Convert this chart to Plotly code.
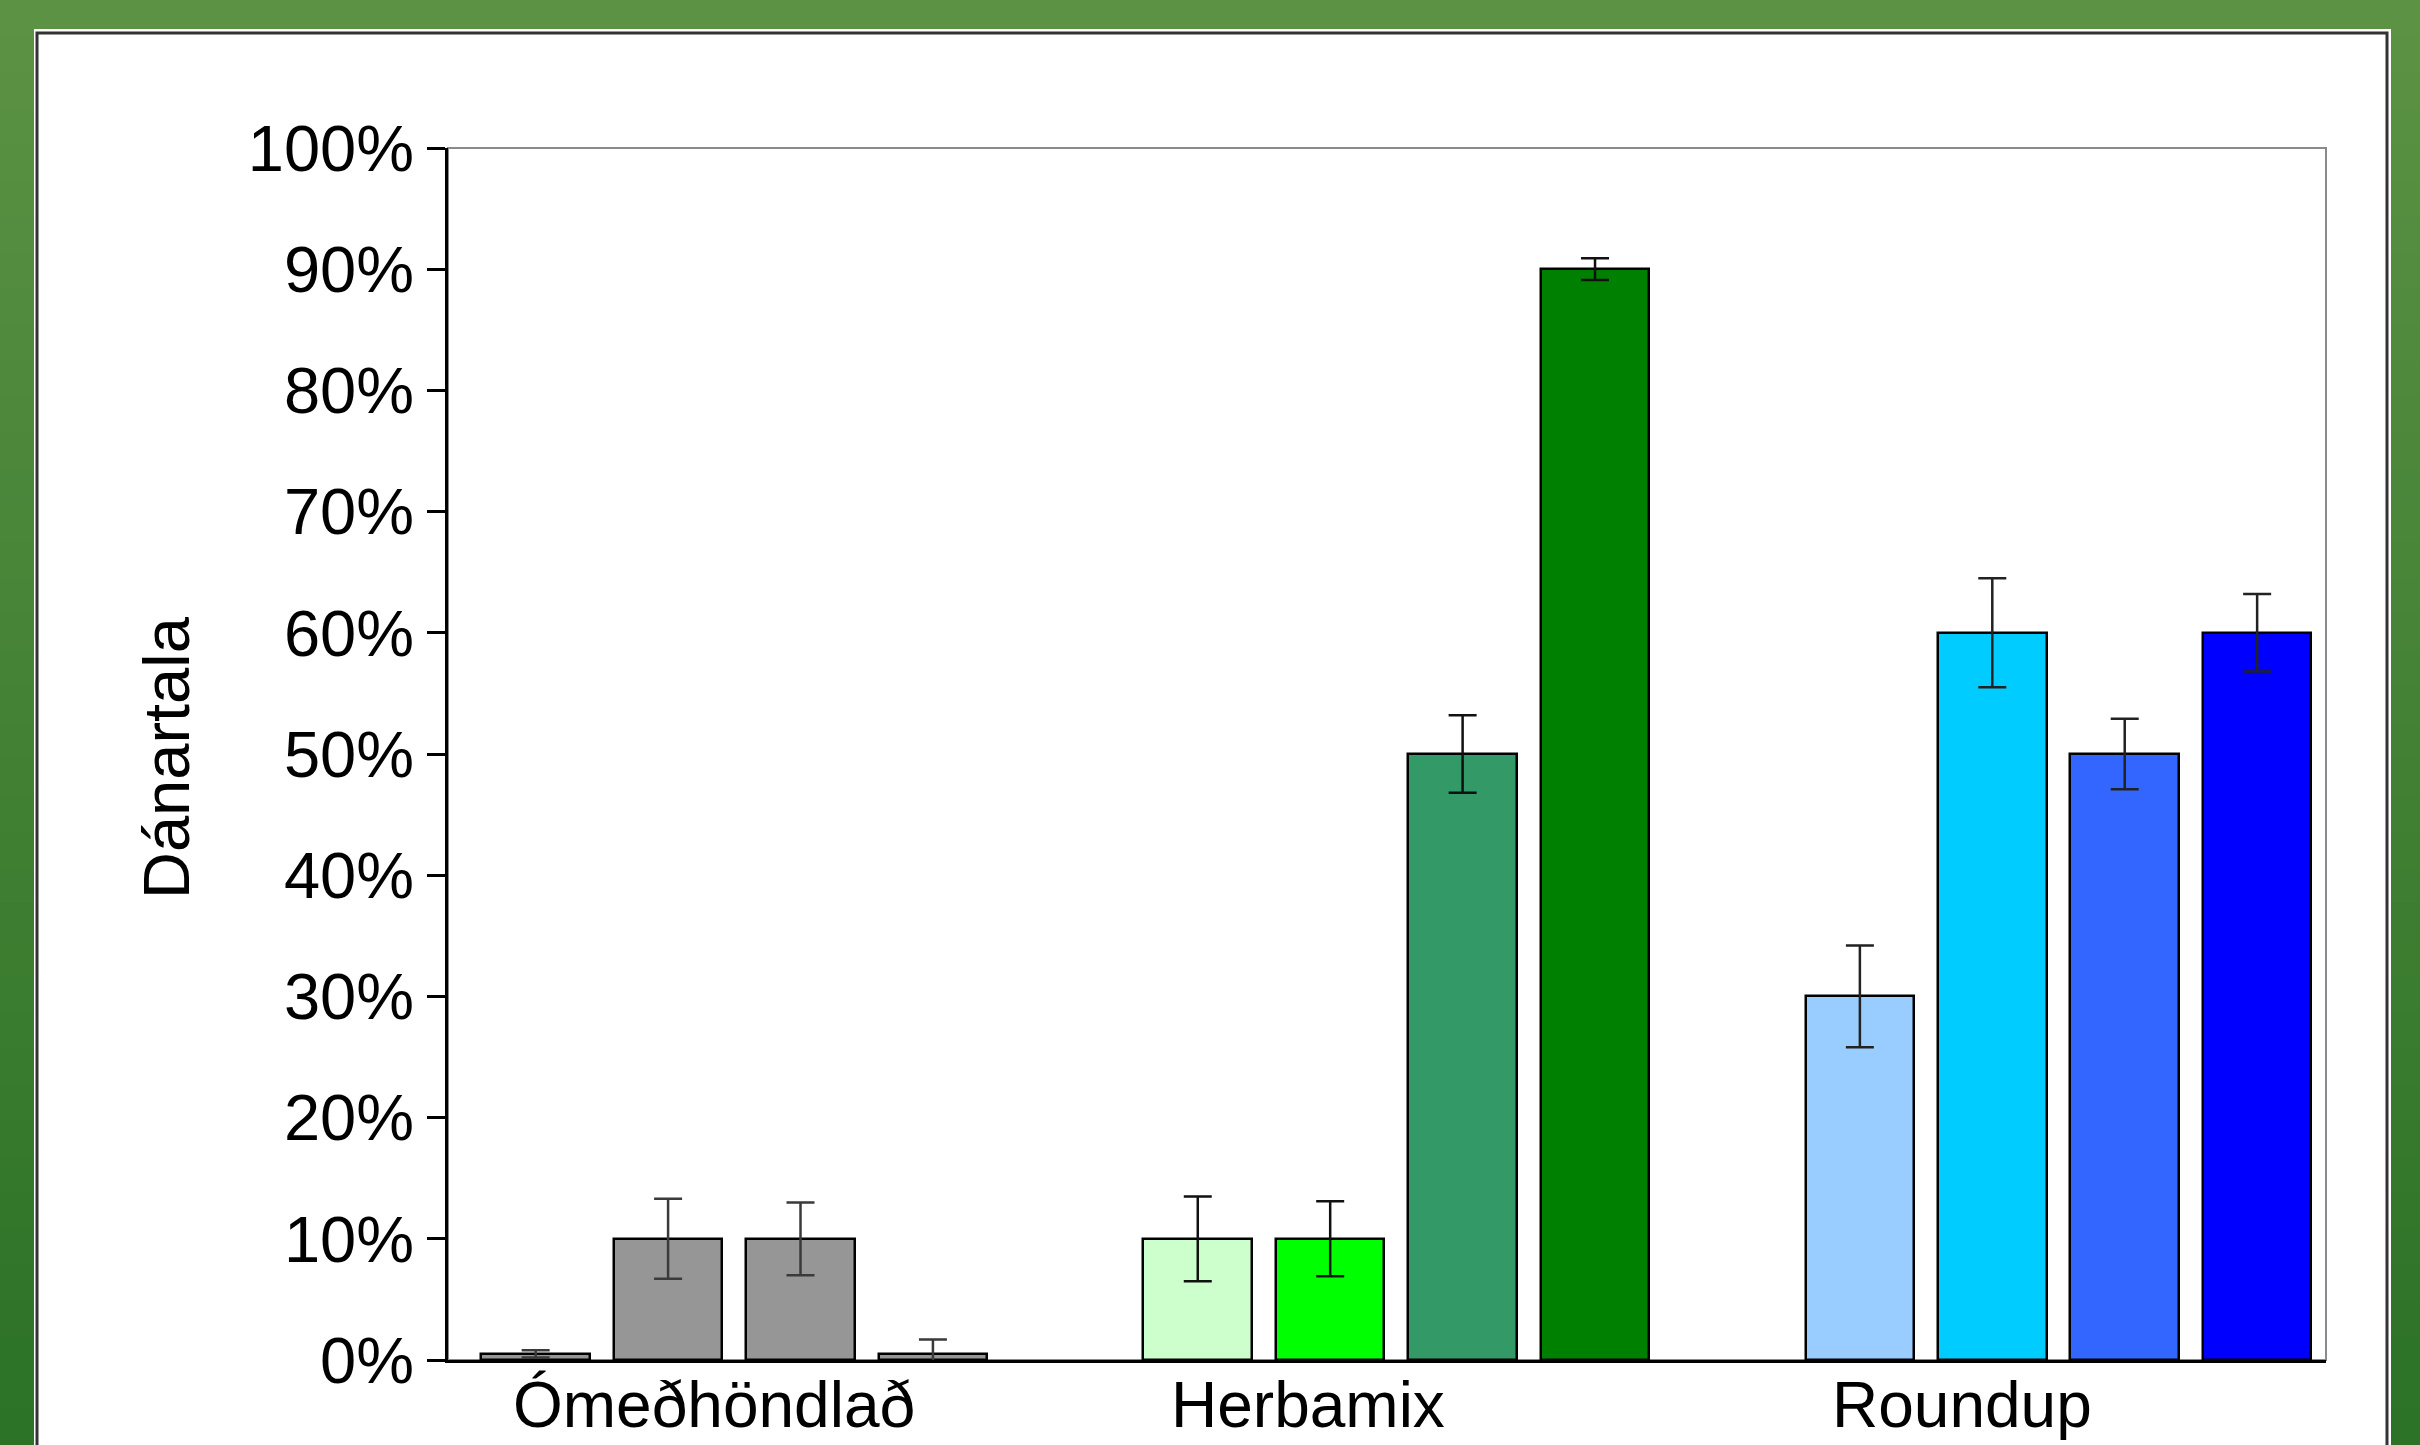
import plotly.graph_objects as go

# ---- data ----
groups = ["Ómeðhöndlað", "Herbamix", "Roundup"]
untreated_vals = [0.5, 10, 10, 0.5]
untreated_err = [0.3, 3.3, 3.0, 1.2]
herbamix_vals = [10, 10, 50, 90]
herbamix_err = [3.5, 3.1, 3.2, 0.9]
roundup_vals = [30, 60, 50, 60]
roundup_err = [4.2, 4.5, 2.9, 3.2]
y_title = "Dánartala"
y_ticks = [0, 10, 20, 30, 40, 50, 60, 70, 80, 90, 100]
y_ticktext = [f"{v}%" for v in y_ticks]

# ---- styles ----
colors = [
    ["#969696"] * 4,
    ["#ccffcc", "#00ff00", "#339966", "#008000"],
    ["#99ccff", "#00ccff", "#3366ff", "#0000ff"],
]
err_colors = ["#3a3a3a", "#111111", "#222222"]
FONT = "Liberation Sans, Arial, sans-serif"

W, H = 2420, 1445
L, R, T, B = 448, 2326, 148, 1360  # plot area in pixels

def px(x):
    return (x - L) / (R - L)

def py(y):
    return (B - y) / (B - T)

fig = go.Figure()
series = [(untreated_vals, untreated_err), (herbamix_vals, herbamix_err), (roundup_vals, roundup_err)]
for g, (vals, errs) in enumerate(series):
    xs = [g * 5 + i for i in range(len(vals))]
    fig.add_trace(go.Bar(
        x=xs, y=vals, width=0.82,
        marker=dict(color=colors[g], line=dict(color="#000000", width=2.5)),
        error_y=dict(type="data", array=errs, visible=True, color=err_colors[g],
                     thickness=2.5, width=14),
        showlegend=False, name=groups[g],
    ))

shapes = []
# green gradient background
top_c = (0x5b, 0x92, 0x43)
bot_c = (0x2c, 0x72, 0x27)
N = 40
for i in range(N):
    t = i / (N - 1)
    c = tuple(int(round(top_c[k] + (bot_c[k] - top_c[k]) * t)) for k in range(3))
    y0 = i * H / N
    y1 = (i + 1) * H / N + 1
    shapes.append(dict(type="rect", xref="paper", yref="paper", layer="below",
                       x0=px(0), x1=px(W), y0=py(y1), y1=py(y0),
                       fillcolor="rgb(%d,%d,%d)" % c, line=dict(width=0)))
# white panel
shapes.append(dict(type="rect", xref="paper", yref="paper", layer="below",
                   x0=px(34), x1=px(2391), y0=py(1460), y1=py(29),
                   fillcolor="white", line=dict(width=0)))
shapes.append(dict(type="rect", xref="paper", yref="paper", layer="below",
                   x0=px(37), x1=px(2387), y0=py(1460), y1=py(33),
                   fillcolor="rgba(0,0,0,0)", line=dict(color="#333333", width=3)))
# plot frame (grey top/right)
shapes.append(dict(type="rect", xref="paper", yref="paper", layer="below",
                   x0=0, x1=1, y0=0, y1=1,
                   fillcolor="rgba(0,0,0,0)", line=dict(color="#8a8a8a", width=2)))

annotations = [
    dict(text=y_title, xref="paper", yref="paper", x=px(167), y=py(758),
         textangle=-90, showarrow=False, xanchor="center", yanchor="middle",
         font=dict(family=FONT, size=65, color="#000000")),
]
label_x = [1.35, 5.83, 10.77]
for name, lx in zip(groups, label_x):
    annotations.append(dict(text=name, xref="x", yref="paper", x=lx, y=py(1405),
                            showarrow=False, xanchor="center", yanchor="middle",
                            font=dict(family=FONT, size=64, color="#000000")))

fig.update_layout(
    width=W, height=H,
    margin=dict(l=L, r=W - R, t=T, b=H - B, pad=0),
    paper_bgcolor="#4a8a3a",
    plot_bgcolor="rgba(0,0,0,0)",
    bargap=0, barmode="overlay",
    shapes=shapes, annotations=annotations,
    xaxis=dict(range=[-0.662, 13.52], showticklabels=False, ticks="",
               showgrid=False, zeroline=False, showline=True,
               linecolor="#000000", linewidth=3, fixedrange=True),
    yaxis=dict(range=[0, 100], tickvals=y_ticks, ticktext=y_ticktext,
               ticks="outside", ticklen=18, tickwidth=2.5, tickcolor="#000000",
               showgrid=False, zeroline=False, showline=True,
               linecolor="#000000", linewidth=3,
               tickfont=dict(family=FONT, size=65, color="#000000")),
)

fig.write_html("out.html", config={"displayModeBar": False},
               post_script="document.body.style.margin='0px';document.body.style.overflow='hidden';")
